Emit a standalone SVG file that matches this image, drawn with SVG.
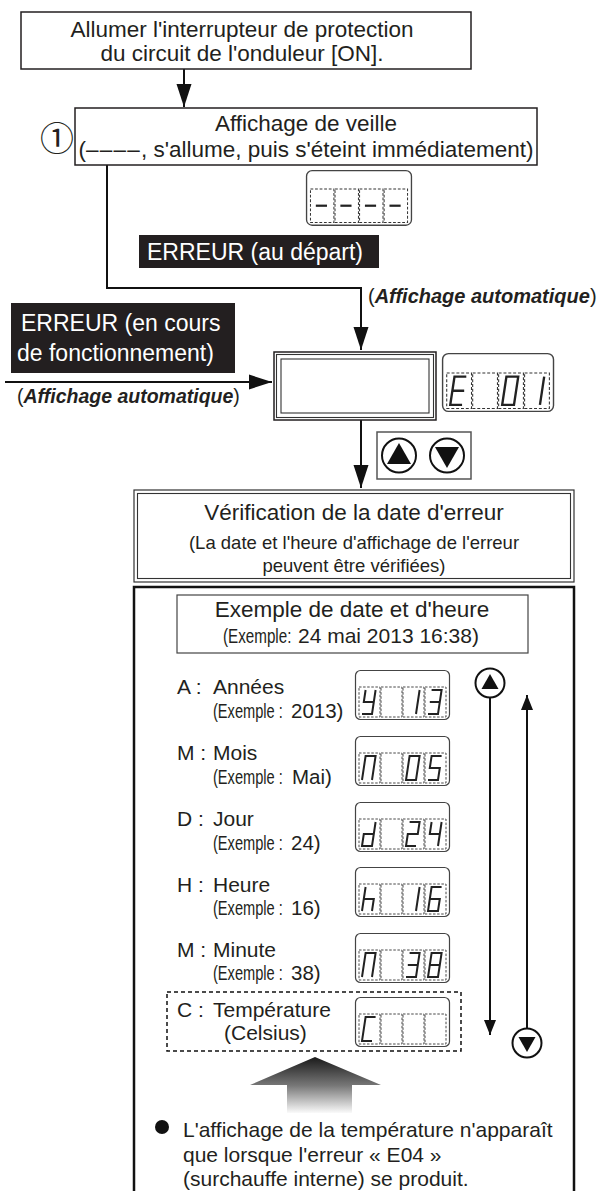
<svg xmlns="http://www.w3.org/2000/svg" xmlns:xlink="http://www.w3.org/1999/xlink" width="600" height="1191" viewBox="0 0 600 1191">
<style>
.t{font-family:"Liberation Sans",Arial,sans-serif;fill:#231f20}
.m{font-size:22.5px}
.s{font-size:21px}
.bi{font-weight:bold;font-style:italic}
.w{fill:#fff}
.box{fill:#fff;stroke:#231f20;stroke-width:1.5}
.thin{fill:none;stroke:#333;stroke-width:1.1}
.conn{fill:none;stroke:#111;stroke-width:2}
.seg{fill:none;stroke:#222;stroke-width:2;stroke-linejoin:miter}
.cell{fill:none;stroke:#333;stroke-width:0.9;stroke-dasharray:2.5 1.6}
.frame{fill:#fff;stroke:#444;stroke-width:1.2}
.ex{font-size:19.5px}
</style>
<defs>
<marker id="ah" markerUnits="userSpaceOnUse" markerWidth="24" markerHeight="16" refX="23" refY="8" orient="auto"><path d="M0,0.5 L23,8 L0,15.5 Z" fill="#111"/></marker>
<marker id="ahs" markerUnits="userSpaceOnUse" markerWidth="16" markerHeight="13" refX="15" refY="6.5" orient="auto"><path d="M0,0.5 L15,6.5 L0,12.5 Z" fill="#111"/></marker>
<linearGradient id="fade" gradientUnits="userSpaceOnUse" x1="0" y1="1057" x2="0" y2="1114"><stop offset="0" stop-color="#1a1a1a"/><stop offset="0.5" stop-color="#777"/><stop offset="1" stop-color="#fff"/></linearGradient>
<g id="frame">
<rect class="frame" x="0.5" y="0.5" width="94" height="49" rx="5"/>
<rect class="cell" x="4" y="17" width="21" height="30"/>
<rect class="cell" x="26" y="17" width="21" height="30"/>
<rect class="cell" x="48" y="17" width="21" height="30"/>
<rect class="cell" x="70" y="17" width="21" height="30"/>
</g>
<path id="g-minus" class="seg" d="M1.8 32 H11.8"/>
<path id="g-E" class="seg" d="M13.6 20 H3.6 L0 44 H10 M1.8 32 H11.8"/>
<path id="g-0" class="seg" d="M3.6 20 H13.6 L10 44 H0 Z"/>
<path id="g-1" class="seg" d="M13.6 20 L10 44"/>
<path id="g-y" class="seg" d="M3.6 20 L1.8 32 H11.8 M13.6 20 L10 44 H0"/>
<path id="g-3" class="seg" d="M3.6 20 H13.6 L10 44 H0 M1.8 32 H11.8"/>
<path id="g-n" class="seg" d="M0 44 L3.6 20 H13.6 L10 44"/>
<path id="g-5" class="seg" d="M13.6 20 H3.6 L1.8 32 H11.8 L10 44 H0"/>
<path id="g-d" class="seg" d="M13.6 20 L10 44 H0 L1.8 32 H11.8"/>
<path id="g-2" class="seg" d="M3.6 20 H13.6 L11.8 32 H1.8 L0 44 H10"/>
<path id="g-4" class="seg" d="M3.6 20 L1.8 32 H11.8 M13.6 20 L10 44"/>
<path id="g-h" class="seg" d="M3.6 20 L0 44 M1.8 32 H11.8 L10 44"/>
<path id="g-6" class="seg" d="M13.6 20 H3.6 L0 44 H10 L11.8 32 H1.8"/>
<path id="g-8" class="seg" d="M3.6 20 H13.6 L10 44 H0 Z M1.8 32 H11.8"/>
<path id="g-C" class="seg" d="M13.6 20 H3.6 L0 44 H10"/>
</defs>

<rect width="600" height="1191" fill="#fff"/>

<g id="connectors">
<line class="conn" x1="184" y1="69" x2="184" y2="107" marker-end="url(#ah)"/>
<polyline class="conn" points="107,165 107,288 361,288 361,350" marker-end="url(#ah)"/>
<line class="conn" x1="5" y1="382" x2="272" y2="382" marker-end="url(#ah)"/>
<line class="conn" x1="361" y1="420" x2="361" y2="488" marker-end="url(#ah)"/>
<line class="conn" x1="490" y1="698" x2="490" y2="1035" marker-end="url(#ahs)"/>
<line class="conn" x1="527" y1="1028" x2="527" y2="695" marker-end="url(#ahs)"/>
</g>

<g id="n-power">
<rect class="box" x="21" y="12" width="450" height="57"/>
<text class="t m" x="242" y="37" text-anchor="middle">Allumer l'interrupteur de protection</text>
<text class="t m" x="242" y="61" text-anchor="middle">du circuit de l'onduleur [ON].</text>
</g>

<g id="n-standby">
<text x="57" y="151" text-anchor="middle" style="font-family:'Noto Sans CJK JP','DejaVu Sans',sans-serif;font-size:34px;fill:#231f20">①</text>
<rect class="box" x="75" y="108" width="462" height="57"/>
<text class="t m" x="306" y="131" text-anchor="middle">Affichage de veille</text>
<text class="t m" x="306" y="157" text-anchor="middle">(<tspan letter-spacing="1.2">––––</tspan>, s'allume, puis s'éteint immédiatement)</text>
</g>

<g id="disp-standby" transform="translate(306,170) scale(1.116)">
<use href="#frame"/>
<use href="#g-minus" x="7"/>
<use href="#g-minus" x="29"/>
<use href="#g-minus" x="51"/>
<use href="#g-minus" x="73"/>
</g>

<g id="n-err-start">
<rect x="139" y="235" width="240" height="33" fill="#231f20"/>
<text class="t m w" x="147" y="260" style="font-size:23px">ERREUR (au départ)</text>
</g>

<text class="t" x="368" y="303" style="font-size:20px">(<tspan class="bi">Affichage automatique</tspan>)</text>

<g id="n-err-run">
<rect x="11" y="303" width="224" height="70" fill="#231f20"/>
<text class="t w" x="21" y="331" style="font-size:23px">ERREUR (en cours</text>
<text class="t w" x="17" y="361" style="font-size:23px">de fonctionnement)</text>
</g>

<text class="t" x="17" y="403" style="font-size:19.5px">(<tspan class="bi">Affichage automatique</tspan>)</text>

<g id="n-error-display">
<rect class="box" x="274" y="352" width="162" height="68" stroke-width="1"/>
<rect class="thin" x="276.5" y="354.5" width="157" height="63"/>
<rect class="thin" x="281" y="359" width="148" height="54"/>
</g>

<g id="disp-E01" transform="translate(442,353) scale(1.18)">
<use href="#frame"/>
<use href="#g-E" x="7"/>
<use href="#g-0" x="51"/>
<use href="#g-1" x="73"/>
</g>

<g id="n-buttons">
<rect x="377" y="432" width="94" height="47" fill="#fff" stroke="#555" stroke-width="1.5"/>
<circle cx="399" cy="455.5" r="17" fill="#fff" stroke="#111" stroke-width="2"/>
<path d="M399 443 L411 464 L387 464 Z" fill="#111"/>
<circle cx="447" cy="455.5" r="17" fill="#fff" stroke="#111" stroke-width="2"/>
<path d="M447 468 L459 447 L435 447 Z" fill="#111"/>
</g>

<g id="n-verif">
<rect x="134" y="490" width="440" height="92" fill="#fff" stroke="#333" stroke-width="1.2"/>
<rect class="thin" x="137.5" y="493.5" width="433" height="85"/>
<text class="t m" x="354" y="520" text-anchor="middle">Vérification de la date d'erreur</text>
<text class="t" x="354" y="549" text-anchor="middle" style="font-size:18.5px">(La date et l'heure d'affichage de l'erreur</text>
<text class="t" x="354" y="572" text-anchor="middle" style="font-size:18.5px">peuvent être vérifiées)</text>
</g>

<g id="n-panel">
<path d="M134 1195 V587 H574 V1195" fill="none" stroke="#111" stroke-width="2.5"/>
</g>

<g id="n-example">
<rect x="177" y="595" width="351" height="58" fill="#fff" stroke="#444" stroke-width="1.2"/>
<text class="t m" x="352" y="617" text-anchor="middle">Exemple de date et d'heure</text>
<text class="t ex" transform="translate(223,643) scale(0.78,1)">(Exemple:</text>
<text class="t s" x="298" y="643">24 mai 2013 16:38)</text>
</g>

<g id="row-A">
<text class="t s" x="177" y="694">A :</text>
<text class="t s" x="213" y="694">Années</text>
<text class="t ex" transform="translate(213,718) scale(0.75,1)">(Exemple :</text>
<text class="t" x="291" y="718" style="font-size:20.5px">2013)</text>
<g transform="translate(355,670)">
<use href="#frame"/><use href="#g-y" x="7"/><use href="#g-1" x="51"/><use href="#g-3" x="73"/>
</g>
</g>

<g id="row-M">
<text class="t s" x="177" y="760">M :</text>
<text class="t s" x="213" y="760">Mois</text>
<text class="t ex" transform="translate(213,784) scale(0.75,1)">(Exemple :</text>
<text class="t" x="292" y="784" style="font-size:20.5px">Mai)</text>
<g transform="translate(355,736)">
<use href="#frame"/><use href="#g-n" x="7"/><use href="#g-0" x="51"/><use href="#g-5" x="73"/>
</g>
</g>

<g id="row-D">
<text class="t s" x="177" y="826">D :</text>
<text class="t s" x="213" y="826">Jour</text>
<text class="t ex" transform="translate(213,850) scale(0.75,1)">(Exemple :</text>
<text class="t" x="291" y="850" style="font-size:20.5px">24)</text>
<g transform="translate(355,802)">
<use href="#frame"/><use href="#g-d" x="7"/><use href="#g-2" x="51"/><use href="#g-4" x="73"/>
</g>
</g>

<g id="row-H">
<text class="t s" x="177" y="892">H :</text>
<text class="t s" x="213" y="892">Heure</text>
<text class="t ex" transform="translate(213,915) scale(0.75,1)">(Exemple :</text>
<text class="t" x="291" y="915" style="font-size:20.5px">16)</text>
<g transform="translate(355,867)">
<use href="#frame"/><use href="#g-h" x="7"/><use href="#g-1" x="51"/><use href="#g-6" x="73"/>
</g>
</g>

<g id="row-Min">
<text class="t s" x="177" y="957">M :</text>
<text class="t s" x="213" y="957">Minute</text>
<text class="t ex" transform="translate(213,980) scale(0.75,1)">(Exemple :</text>
<text class="t" x="291" y="980" style="font-size:20.5px">38)</text>
<g transform="translate(355,933)">
<use href="#frame"/><use href="#g-n" x="7"/><use href="#g-3" x="51"/><use href="#g-8" x="73"/>
</g>
</g>

<g id="row-C">
<rect x="167" y="992" width="294" height="59" fill="none" stroke="#111" stroke-width="1.5" stroke-dasharray="4 3"/>
<text class="t s" x="177" y="1017">C :</text>
<text class="t s" x="213" y="1017">Température</text>
<text class="t s" x="224" y="1040">(Celsius)</text>
<g transform="translate(355,997)">
<use href="#frame"/><use href="#g-C" x="7"/>
</g>
</g>

<g id="n-up">
<circle cx="490" cy="683" r="14.5" fill="#fff" stroke="#111" stroke-width="2"/>
<path d="M490 674 L498.5 689 L481.5 689 Z" fill="#111"/>
</g>
<g id="n-down">
<circle cx="527" cy="1043" r="14.5" fill="#fff" stroke="#111" stroke-width="2"/>
<path d="M527 1052 L535.5 1037 L518.5 1037 Z" fill="#111"/>
</g>

<g id="n-note">
<path d="M315 1057 L381 1085 L352 1085 L352 1113 L287 1113 L287 1085 L250 1085 Z" fill="url(#fade)"/>
<circle cx="162" cy="1127" r="7" fill="#111"/>
<text class="t s" x="183" y="1137">L'affichage de la température n'apparaît</text>
<text class="t s" x="183" y="1162">que lorsque l'erreur « E04 »</text>
<text class="t s" x="183" y="1186">(surchauffe interne) se produit.</text>
</g>
</svg>
